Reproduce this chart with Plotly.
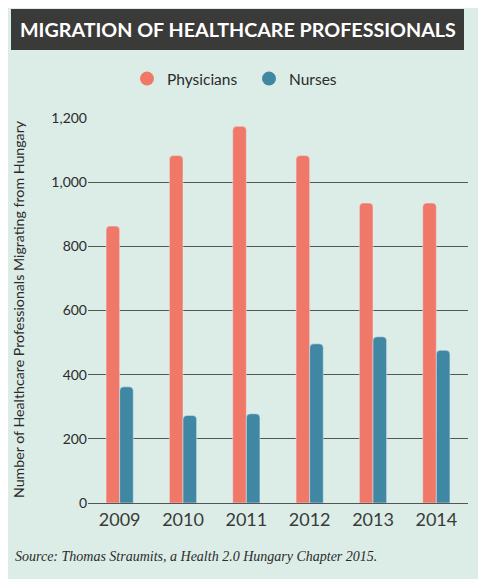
"""Migration of healthcare professionals from Hungary, grouped bar chart."""

import plotly.graph_objects as go

YEARS = ["2009", "2010", "2011", "2012", "2013", "2014"]
PHYSICIANS = [863, 1083, 1174, 1083, 935, 935]
NURSES = [362, 273, 278, 496, 518, 476]
Y_TICKS = [0, 200, 400, 600, 800, 1000, 1200]

TITLE = "MIGRATION OF HEALTHCARE PROFESSIONALS"
Y_TITLE = "Number of Healthcare Professionals Migrating from Hungary"
SOURCE = "Source: Thomas Straumits, a Health 2.0 Hungary Chapter 2015."

BG = "#dbede6"
RED = "#f07868"
BLUE = "#3f87a3"
TEXT = "#2b2b2b"

# page body has an 8px margin, so the figure is laid out in window pixels minus 8
OFF = 8
W, H = 486 - OFF, 579 - OFF
M = dict(l=88 - OFF, r=18, t=118 - OFF, b=579 - 503)


def px_x(x):
    return (x - OFF - M["l"]) / (W - M["l"] - M["r"])


def px_y(y):
    return (H - M["b"] - (y - OFF)) / (H - M["t"] - M["b"])


fig = go.Figure()
fig.add_bar(x=YEARS, y=PHYSICIANS, name="Physicians", marker_color=RED,
            showlegend=False)
fig.add_bar(x=YEARS, y=NURSES, name="Nurses", marker_color=BLUE,
            showlegend=False)
# circle markers for the legend
for name, col in [("Physicians", RED), ("Nurses", BLUE)]:
    fig.add_scatter(x=[None], y=[None], mode="markers", name=name,
                    marker=dict(symbol="circle", size=14, color=col))

fig.update_layout(
    width=W, height=H, autosize=False,
    margin=M,
    paper_bgcolor=BG, plot_bgcolor=BG,
    font=dict(family="Lato, Open Sans, sans-serif", color=TEXT),
    barmode="group", bargap=0.57, bargroupgap=0, barcornerradius=4,
    showlegend=True,
    legend=dict(orientation="h", x=px_x(127), xanchor="left",
                y=px_y(79), yanchor="middle",
                font=dict(size=15.5, color=TEXT), itemwidth=30,
                entrywidth=77,
                bgcolor="rgba(0,0,0,0)"),
    shapes=[dict(type="rect", xref="paper", yref="paper",
                 x0=px_x(11), x1=px_x(464), y0=px_y(50), y1=px_y(9),
                 fillcolor="#3a3a38", line_width=0, layer="above")],
    annotations=[
        dict(text=f"<b>{TITLE}</b>", xref="paper", yref="paper",
             x=px_x(238), y=px_y(30), xanchor="center", yanchor="middle",
             showarrow=False, font=dict(size=19.7, color="white",
                                        family="Lato, sans-serif")),
        dict(text=f"<i>{SOURCE}</i>", xref="paper", yref="paper",
             x=px_x(13), y=px_y(556), xanchor="left", yanchor="middle",
             showarrow=False, font=dict(size=14, color=TEXT,
                                        family="Liberation Serif, serif")),
        dict(text=Y_TITLE, xref="paper", yref="paper", textangle=-90,
             x=px_x(18), y=px_y(309), xanchor="center", yanchor="middle",
             showarrow=False, font=dict(size=14.2, color=TEXT)),
    ],
)
fig.update_xaxes(showgrid=False, ticks="", ticklabelstandoff=4,
                 tickfont=dict(size=18, color="#3a3a3a"), showline=False)
fig.update_yaxes(range=[0, 1200], tickvals=Y_TICKS, tickformat=",",
                 showgrid=True, gridcolor="#555555", gridwidth=1.3,
                 zeroline=True, zerolinecolor="#555555", zerolinewidth=1.3,
                 tickfont=dict(size=14, color=TEXT), ticks="")

fig.write_html("out.html")
